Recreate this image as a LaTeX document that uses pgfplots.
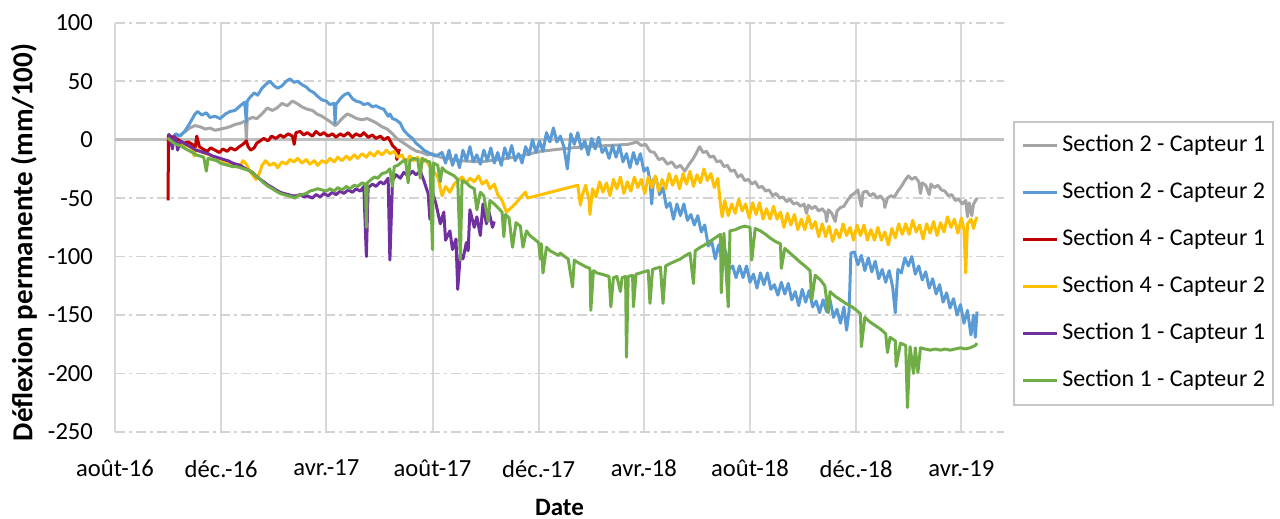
\documentclass[border=0pt]{standalone}
\usepackage{pgfplots}
\pgfplotsset{compat=1.18}
\usepackage{fontspec}
\setmainfont{Carlito}
\definecolor{cgray}{HTML}{A5A5A5}
\definecolor{cblue}{HTML}{5B9BD5}
\definecolor{cred}{HTML}{C00000}
\definecolor{cyel}{HTML}{FFC000}
\definecolor{cpur}{HTML}{7030A0}
\definecolor{cgre}{HTML}{70AD47}
\begin{document}
\begin{tikzpicture}
\useasboundingbox (0,0) rectangle (640pt,259.5pt);
\begin{axis}[
  at={(57.5pt,43.5pt)}, anchor=south west,
  scale only axis, width=444.5pt, height=204.65pt,
  xmin=0, xmax=1022, ymin=-250, ymax=100,
  xtick={0,122,243,365,487,608,730,852,973},
  xticklabels={août-16,déc.-16,avr.-17,août-17,déc.-17,avr.-18,août-18,déc.-18,avr.-19},
  ytick={-250,-200,-150,-100,-50,0,50,100},
  yticklabels={-250,-200,-150,-100,-50,0,50,100},
  /pgf/number format/assume math mode=true,
  tick label style={font=\fontsize{12.3}{14}\selectfont},
  xticklabel style={yshift=-10.5pt},
  yticklabel style={xshift=-7.5pt},
  axis line style={draw=none},
  major tick length=0pt,
  xmajorgrids, ymajorgrids,
  x grid style={draw=black!15, line width=1pt},
  y grid style={draw=black!17, line width=0.8pt, dash pattern=on 5pt off 2pt on 1.5pt off 2pt},
  xlabel={Date},
  ylabel={Déflexion permanente (mm/100)},
  every axis x label/.style={at={([yshift=-37.5pt]axis description cs:0.5,0)}, anchor=center, font=\fontsize{12.5}{14}\selectfont\bfseries},
  every axis y label/.style={at={([xshift=-45.5pt,yshift=-7.5pt]axis description cs:0,0.5)}, rotate=90, anchor=center, font=\fontsize{14.5}{17}\selectfont\bfseries},
  legend image code/.code={\draw[#1, line width=1.2pt] (0pt,0pt) -- (17pt,0pt);},
  legend cell align=left,
  legend style={at={(1.0101,0.7606)}, anchor=north west, draw=black!22, line width=1pt,
    inner xsep=4pt, inner ysep=6pt, row sep=11.5pt,
    font=\fontsize{12}{14}\selectfont,
    nodes={inner sep=0pt, text height=9pt, text depth=3pt},
    /tikz/every odd column/.append style={column sep=2pt}},
  every axis plot/.append style={line width=1.5pt, line join=round},
]
\draw[black!25, line width=1.2pt] (axis cs:0,0) -- (axis cs:1022,0);
% Section 2 - Capteur 1
\addplot[cgray] coordinates {
(61,3)(66,1)(70,2)(75,4)(81,7)(86,10)(92,12)(98,11)(104,9)(109,10)(115,8)(121,9)(127,10)(132,11)(138,13)(144,14)(150,16)(151,0)(152,17)(158,19)(163,18)(169,22)(175,27)(181,25)(186,27)(192,31)(198,29)(204,33)(209,31)(215,28)(221,26)(227,25)(232,22)(238,20)(244,17)(250,14)(253,12)(255,13)(261,18)(267,22)(273,20)(278,18)(284,17)(290,18)(296,16)(301,14)(307,11)(313,9)(319,5)(324,1)(330,-2)(336,-5)(342,-8)(347,-10)(353,-11)(359,-13)(365,-12)(374,-15)(397,-18)(420,-19)(443,-17)(466,-14)(489,-10)(512,-8)(540,-6)(569,-5)(590,-4)
(600,-2)(605,-5)(610,-4)(615,-10)(620,-11)(625,-17)(630,-16)(635,-21)(640,-19)(645,-24)(650,-22)(655,-27)(660,-21)(664,-17)(668,-12)(672,-6)(676,-11)(680,-10)(684,-15)(688,-14)(692,-19)(696,-18)(700,-23)(704,-22)(708,-27)(712,-26)(716,-32)(720,-30)(724,-35)(728,-34)(732,-38)(736,-36)(740,-41)(744,-40)(748,-44)(752,-43)(756,-48)(760,-46)(764,-50)(768,-49)(772,-53)(776,-51)(780,-55)(784,-54)(788,-57)(792,-55)(795,-63)(797,-56)(801,-59)(805,-57)(809,-61)(813,-59)(817,-63)(818,-70)(820,-60)(824,-63)(828,-70)(830,-61)(834,-58)(838,-57)(842,-52)(846,-48)(850,-46)(854,-43)(858,-57)(860,-45)(864,-44)(868,-48)(872,-46)(876,-50)(880,-48)(884,-52)(885,-58)(888,-50)(892,-48)(896,-49)(900,-44)(904,-40)(908,-35)(912,-31)(916,-34)(920,-32)(924,-36)(926,-46)(928,-37)(932,-39)(936,-47)(938,-38)(942,-41)(946,-39)(950,-43)(954,-44)(958,-48)(962,-47)(966,-52)(970,-51)(974,-55)(978,-52)(980,-66)(982,-54)(985,-65)(987,-55)(991,-50)
};
\addlegendentry{Section 2 - Capteur 1}
% Section 2 - Capteur 2
\addplot[cblue] coordinates {
(61,3)(66,1)(70,5)(75,3)(81,8)(86,14)(92,22)(95,24)(100,21)(105,23)(109,19)(115,20)(121,18)(127,22)(132,24)(138,25)(144,29)(149,32)(151,15)(152,33)(155,36)(160,40)(164,38)(169,44)(173,47)(178,50)(183,46)(187,44)(192,46)(197,50)(201,52)(206,49)(210,50)(215,47)(220,45)(224,42)(229,40)(233,37)(238,34)(243,33)(247,30)(252,31)(253,14)(254,30)(259,35)(263,38)(268,40)(273,35)(277,33)(282,32)(286,30)(291,31)(296,28)(300,29)(305,27)(309,26)(314,20)(316,22)(319,18)(323,17)(328,14)(332,8)(337,4)(342,1)(346,-3)(351,-6)(355,-9)(360,-11)(365,-13)(369,-14)
(376,-11)(380,-20)(384,-9)(388,-22)(392,-13)(396,-24)(400,-9)(404,-18)(408,-6)(412,-19)(416,-13)(420,-21)(424,-9)(428,-18)(432,-7)(436,-20)(440,-11)(444,-22)(448,-7)(452,-16)(456,-5)(460,-18)(464,-12)(468,-20)(472,-6)(476,-13)(480,0)(484,-11)(488,-1)(492,-10)(496,6)(500,-2)(504,10)(508,-2)(512,3)(516,-6)(520,-25)(524,5)(528,-4)(532,6)(536,-8)(540,-1)(544,-13)(548,1)(552,-8)(556,2)(560,-11)(564,-7)(568,-16)(572,-5)(576,-15)(580,-5)(584,-19)(588,-12)(592,-24)(596,-11)(600,-21)(604,-12)(608,-27)(612,-24)(615,-35)(617,-55)(619,-34)(622,-33)(626,-47)(630,-41)(634,-58)(638,-54)(642,-68)(646,-55)(650,-65)(654,-55)(658,-69)(662,-64)(666,-73)(670,-65)(674,-79)(678,-73)(682,-91)(686,-87)(690,-102)(694,-90)(698,-103)(702,-95)(706,-111)(710,-108)(714,-118)(718,-108)(722,-118)(726,-108)(730,-122)(734,-115)(738,-127)(742,-114)(746,-124)(750,-114)(754,-128)(758,-124)(762,-133)(766,-122)(770,-132)(774,-123)(778,-137)(782,-130)(786,-142)(790,-128)(794,-139)(798,-129)(802,-143)(806,-138)(810,-148)(814,-137)(818,-147)(822,-137)(826,-152)(830,-145)(834,-157)(838,-143)(841,-163)(844,-146)(846,-97)(850,-96)(854,-107)(858,-99)(862,-112)(866,-101)(870,-113)(874,-104)(878,-119)(882,-111)(886,-122)(890,-112)(894,-126)(897,-148)(900,-111)(904,-114)(908,-101)(912,-108)(916,-100)(920,-115)(924,-108)(928,-120)(932,-113)(936,-127)(940,-119)(944,-132)(948,-124)(952,-139)(956,-131)(960,-144)(964,-136)(968,-150)(972,-141)(976,-157)(980,-146)(984,-167)(987,-150)(989,-169)(991,-147)
};
\addlegendentry{Section 2 - Capteur 2}
% Section 4 - Capteur 1
\addplot[cred] coordinates {
(61,-52)(61.5,4)(66,2)(70,1)(75,-1)(79,-3)(84,-2)(89,-4)(92,-8)(94,3)(97,-6)(101,-8)(106,-10)(110,-7)(115,-9)(120,-11)(124,-8)(129,-10)(133,-7)(138,-9)(143,-6)(147,-4)(151,-1)(153,-6)(156,-9)(160,-7)(163,-3)(167,-1)(171,1)(176,-1)(180,3)(185,1)(190,4)(194,2)(199,5)(204,3)(206,-4)(208,6)(213,7)(217,4)(221,6)(227,3)(231,7)(236,4)(240,6)(245,3)(250,5)(254,2)(259,5)(263,3)(268,6)(273,2)(277,5)(282,3)(286,6)(291,2)(296,4)(300,1)(305,3)(309,0)(314,2)(317,-2)(319,-5)(323,-8)(324,-17)(327,-8)
};
\addlegendentry{Section 4 - Capteur 1}
% Section 4 - Capteur 2
\addplot[cyel] coordinates {
(61,2)(66,-1)(70,-3)(75,-4)(79,-6)(84,-5)(89,-8)(91,-14)(93,-8)(98,-10)(104,-12)(109,-13)(115,-15)(121,-17)(127,-19)(132,-20)(138,-21)(144,-22)(147,-18)(151,-21)(155,-27)(159,-31)(162,-34)(166,-29)(169,-22)(173,-18)(178,-22)(183,-20)(187,-24)(192,-19)(197,-21)(201,-17)(206,-19)(210,-16)(215,-20)(220,-17)(224,-21)(229,-18)(233,-22)(238,-18)(243,-20)(247,-16)(252,-19)(256,-15)(261,-18)(266,-14)(270,-17)(275,-13)(279,-16)(284,-12)(289,-15)(293,-11)(298,-14)(302,-10)(307,-13)(312,-9)(316,-12)(321,-10)(325,-15)(330,-13)(334,-20)(339,-14)(344,-18)(348,-15)(353,-20)(357,-17)(362,-23)(366,-27)(371,-32)(376,-48)(380,-40)(385,-45)(390,-38)(394,-35)(399,-32)(404,-37)(408,-33)(413,-36)(418,-31)(422,-38)(427,-35)(431,-42)(436,-38)(440,-47)(445,-52)(449,-60)(450,-62)(460,-55)(468,-48)(472,-45)(474,-50)
(532,-39)(535,-56)(537,-48)(541,-39)(545,-52)(546,-64)(549,-42)(553,-49)(557,-36)(561,-45)(565,-37)(569,-48)(573,-34)(577,-42)(581,-32)(585,-46)(589,-36)(593,-44)(597,-32)(601,-41)(605,-34)(609,-46)(613,-32)(617,-41)(621,-31)(625,-44)(629,-34)(633,-42)(637,-29)(641,-39)(645,-31)(649,-42)(653,-29)(657,-38)(661,-27)(665,-40)(669,-30)(673,-37)(677,-25)(681,-35)(685,-29)(689,-41)(693,-33)(696,-55)(698,-66)(701,-52)(705,-65)(709,-55)(713,-63)(717,-51)(721,-61)(725,-55)(729,-67)(733,-54)(737,-64)(741,-54)(745,-68)(749,-59)(753,-68)(757,-57)(761,-68)(765,-62)(769,-75)(773,-63)(777,-73)(781,-64)(785,-77)(789,-68)(793,-77)(797,-65)(801,-76)(805,-70)(809,-83)(813,-72)(817,-83)(821,-74)(825,-87)(829,-77)(833,-84)(837,-72)(841,-82)(845,-75)(849,-86)(853,-73)(857,-82)(861,-73)(865,-86)(869,-77)(873,-86)(877,-75)(881,-86)(885,-79)(889,-90)(893,-76)(897,-84)(901,-72)(905,-81)(909,-72)(913,-81)(917,-69)(921,-79)(925,-73)(929,-85)(933,-72)(937,-80)(941,-70)(945,-82)(949,-71)(953,-79)(957,-66)(961,-75)(965,-68)(969,-80)(973,-67)(976,-77)(978,-114)(980,-72)(984,-68)(987,-76)(989,-70)(991,-66)
};
\addlegendentry{Section 4 - Capteur 2}
% Section 1 - Capteur 1
\addplot[cpur] coordinates {
(61,5)(63,3)(66,-8)(68,3)(70,1)(72,-9)(75,-1)(79,-3)(84,-5)(89,-7)(93,-9)(98,-10)(102,-11)(107,-12)(112,-14)(117,-15)(121,-16)(125,-17)(130,-18)(135,-20)(139,-21)(144,-22)(148,-24)(153,-26)(158,-28)(162,-31)(167,-34)(171,-36)(176,-39)(181,-41)(185,-43)(190,-45)(194,-46)(199,-47)(204,-48)(208,-48)(213,-47)(217,-49)(221,-48)(227,-50)(231,-47)(236,-49)(240,-46)(245,-48)(250,-45)(254,-47)(259,-44)(263,-46)(268,-43)(273,-45)(277,-42)(282,-44)(286,-40)(289,-100)(291,-41)(296,-38)(300,-40)(305,-36)(309,-38)(314,-33)(316,-103)(319,-35)(323,-30)(328,-33)(332,-28)(337,-31)(342,-27)(346,-30)(351,-27)(355,-35)(360,-46)(362,-68)(365,-45)(369,-55)(374,-72)(378,-62)(380,-86)(385,-78)(388,-94)(392,-85)(394,-128)(397,-98)(400,-102)(404,-88)(406,-95)(408,-60)(413,-75)(416,-66)(420,-82)(423,-55)(427,-72)(430,-62)(434,-75)(436,-70)
};
\addlegendentry{Section 1 - Capteur 1}
% Section 1 - Capteur 2
\addplot[cgre] coordinates {
(61,1)(66,-2)(70,-4)(75,-5)(79,-7)(84,-9)(89,-11)(93,-13)(98,-14)(102,-15)(105,-27)(107,-16)(112,-17)(117,-18)(121,-20)(125,-21)(130,-22)(135,-23)(139,-23)(144,-24)(148,-25)(153,-26)(158,-28)(162,-31)(167,-34)(171,-37)(176,-40)(181,-42)(185,-44)(190,-46)(194,-47)(199,-48)(204,-49)(207,-50)(210,-48)(215,-47)(220,-46)(224,-44)(229,-43)(233,-42)(238,-43)(243,-44)(247,-42)(252,-44)(256,-41)(261,-43)(266,-40)(270,-42)(275,-39)(279,-40)(284,-37)(288,-38)(289,-75)(290,-37)(293,-35)(298,-32)(302,-33)(307,-29)(312,-28)(316,-25)(319,-40)(321,-23)(325,-22)(330,-19)(334,-17)(337,-37)(339,-18)(344,-16)(348,-17)(351,-33)(353,-16)(357,-18)(362,-19)(365,-94)(366,-20)(371,-22)(374,-36)(376,-24)(380,-27)(385,-29)(390,-31)(394,-34)(397,-103)(399,-35)(404,-37)(408,-40)(413,-42)(416,-60)(420,-45)(424,-48)(429,-70)(431,-52)(436,-55)(440,-58)(445,-62)(447,-83)(449,-64)(453,-67)(457,-92)(461,-71)(466,-74)(469,-92)(473,-78)(477,-82)(482,-85)(487,-88)(489,-102)(490,-89)(492,-114)(496,-92)(500,-95)(505,-97)(510,-99)(512,-97)(517,-100)(521,-102)(526,-126)(528,-103)(532,-105)(537,-107)(542,-109)(546,-110)(547,-146)(550,-112)(554,-114)(559,-115)(564,-116)(568,-117)(570,-143)(573,-118)(577,-117)(581,-130)(583,-118)(587,-117)(588,-186)(590,-117)(595,-116)(596,-143)(599,-115)(604,-114)(608,-113)(613,-112)(615,-140)(618,-111)(622,-110)(627,-109)(630,-140)(633,-108)(638,-106)(644,-104)(650,-102)(656,-99)(661,-97)(665,-123)(667,-95)(673,-92)(678,-90)(684,-87)(690,-84)(696,-81)(697,-131)(700,-80)(705,-143)(707,-78)(713,-77)(719,-75)(724,-74)(730,-75)(732,-103)(736,-76)(742,-78)(748,-81)(753,-84)(759,-87)(765,-89)(766,-110)(770,-93)(776,-97)(782,-101)(788,-105)(793,-108)(799,-112)(801,-137)(805,-116)(811,-120)(816,-125)(820,-148)(822,-130)(828,-134)(834,-137)(840,-140)(845,-142)(851,-145)(857,-149)(858,-177)(862,-152)(868,-156)(874,-159)(880,-162)(886,-166)(888,-182)(891,-169)(897,-172)(898,-194)(903,-174)(909,-176)(911,-229)(914,-177)(918,-200)(920,-178)(923,-199)(926,-178)(931,-179)(937,-180)(943,-179)(949,-180)(954,-179)(960,-180)(966,-179)(972,-178)(977,-179)(983,-178)(989,-176)(991,-174)
};
\addlegendentry{Section 1 - Capteur 2}
\end{axis}
\end{tikzpicture}
\end{document}
